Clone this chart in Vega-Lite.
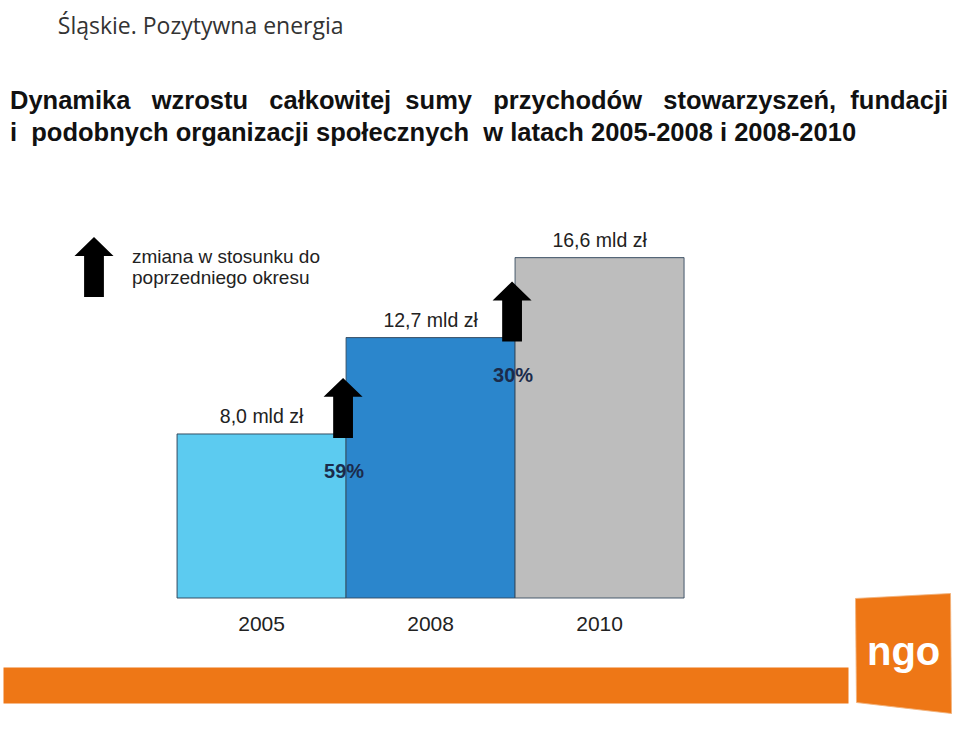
{
  "$schema": "https://vega.github.io/schema/vega-lite/v6.json",
  "width": 845,
  "height": 448,
  "autosize": {"type": "none"},
  "padding": {"left": 3, "top": 150, "right": 112, "bottom": 134},
  "background": "white",
  "config": {"view": {"stroke": null}, "font": "Liberation Sans"},
  "title": {
    "text": "\u200d\u00a0\u00a0\u00a0\u00a0\u00a0\u00a0\u00a0\u00a0Śląskie. Pozytywna energia",
    "subtitle": [
      "Dynamika \u00a0\u00a0wzrostu \u00a0\u00a0całkowitej \u00a0sumy \u00a0\u00a0przychodów \u00a0\u00a0stowarzyszeń, \u00a0fundacji",
      "i \u00a0podobnych organizacji społecznych \u00a0w latach 2005-2008 i 2008-2010"
    ],
    "anchor": "start",
    "frame": "group",
    "dx": 7,
    "offset": 4,
    "font": "Open Sans",
    "fontSize": 23,
    "fontWeight": "normal",
    "color": "#333333",
    "subtitleFont": "Liberation Sans",
    "subtitleFontSize": 25.5,
    "subtitleFontWeight": "bold",
    "subtitleColor": "#111111",
    "subtitleLineHeight": 32,
    "subtitlePadding": 50
  },
  "data": {
    "values": [
      {"year": "2005", "value": 8.0, "label": "8,0 mld zł", "prev": null, "change": null},
      {"year": "2008", "value": 12.7, "label": "12,7 mld zł", "prev": 8.0, "change": "59%"},
      {"year": "2010", "value": 16.6, "label": "16,6 mld zł", "prev": 12.7, "change": "30%"}
    ]
  },
  "encoding": {
    "x": {
      "field": "year",
      "type": "ordinal",
      "scale": {"paddingInner": 0, "paddingOuter": 1, "align": 0.515},
      "axis": {
        "title": null,
        "labelAngle": 0,
        "ticks": false,
        "tickSize": 0,
        "grid": false,
        "domainWidth": 36,
        "domainColor": "#EE7716",
        "offset": 87,
        "labelPadding": -72,
        "labelFontSize": 21,
        "labelColor": "#222222",
        "labelFont": "Liberation Sans"
      }
    }
  },
  "layer": [
    {
      "mark": {"type": "bar", "stroke": "#34495e", "strokeWidth": 1},
      "encoding": {
        "y": {"field": "value", "type": "quantitative", "scale": {"domain": [0, 21.85], "nice": false}, "axis": null},
        "color": {
          "field": "year",
          "type": "nominal",
          "scale": {"domain": ["2005", "2008", "2010"], "range": ["#5CCBF0", "#2B86CC", "#BDBDBD"]},
          "legend": null
        },
        "strokeDash": {
          "datum": "ngo",
          "type": "nominal",
          "scale": {"range": [[1, 0]]},
          "legend": {
            "title": null,
            "orient": "none",
            "legendX": 850,
            "legendY": 452,
            "padding": 0,
            "symbolType": "M-0.96,-1.08 L0.94,-1.18 L0.96,1.22 L-0.94,1.0 Z",
            "symbolSize": 10000,
            "symbolFillColor": "#EE7716",
            "symbolStrokeColor": "#F3B27A",
            "symbolStrokeWidth": 1,
            "symbolOpacity": 1,
            "labelFont": "Liberation Sans",
            "labelFontWeight": "bold",
            "labelFontSize": 40,
            "labelColor": "#FFFFFF",
            "labelOffset": -87
          }
        }
      }
    },
    {
      "mark": {"type": "text", "baseline": "alphabetic", "dy": -11, "fontSize": 19.5, "color": "#222222", "font": "Liberation Sans"},
      "encoding": {
        "y": {"field": "value", "type": "quantitative", "scale": {"domain": [0, 21.85], "nice": false}},
        "text": {"field": "label"}
      }
    },
    {
      "transform": [{"filter": "isValid(datum.prev)"}],
      "mark": {"type": "point", "filled": true, "size": 3600, "color": "#000000", "opacity": 1, "strokeWidth": 0, "xOffset": -3, "yOffset": -36},
      "encoding": {
        "x": {"field": "year", "type": "ordinal", "bandPosition": 0},
        "y": {"field": "prev", "type": "quantitative", "scale": {"domain": [0, 21.85], "nice": false}},
        "shape": {
          "datum": "zmiana w stosunku do poprzedniego okresu",
          "type": "nominal",
          "scale": {"range": ["M-0.33,1.333 L-0.33,-0.037 L-0.65,-0.037 L0,-0.667 L0.65,-0.037 L0.33,-0.037 L0.33,1.333 Z"]},
          "legend": {
            "title": null,
            "orient": "none",
            "legendX": 61,
            "legendY": 77,
            "padding": 0,
            "symbolSize": 3600,
            "symbolFillColor": "#000000",
            "symbolStrokeWidth": 0,
            "labelExpr": "['zmiana w stosunku do', 'poprzedniego okresu']",
            "labelFontSize": 19,
            "labelColor": "#222222",
            "labelFont": "Liberation Sans",
            "labelOffset": 8,
            "labelLimit": 400
          }
        }
      }
    },
    {
      "transform": [{"filter": "isValid(datum.prev)"}],
      "mark": {"type": "text", "baseline": "alphabetic", "dy": 44, "xOffset": -2, "fontSize": 20, "fontWeight": "bold", "color": "#1B2B4B", "font": "Liberation Sans"},
      "encoding": {
        "x": {"field": "year", "type": "ordinal", "bandPosition": 0},
        "y": {"field": "prev", "type": "quantitative", "scale": {"domain": [0, 21.85], "nice": false}},
        "text": {"field": "change"}
      }
    }
  ]
}
